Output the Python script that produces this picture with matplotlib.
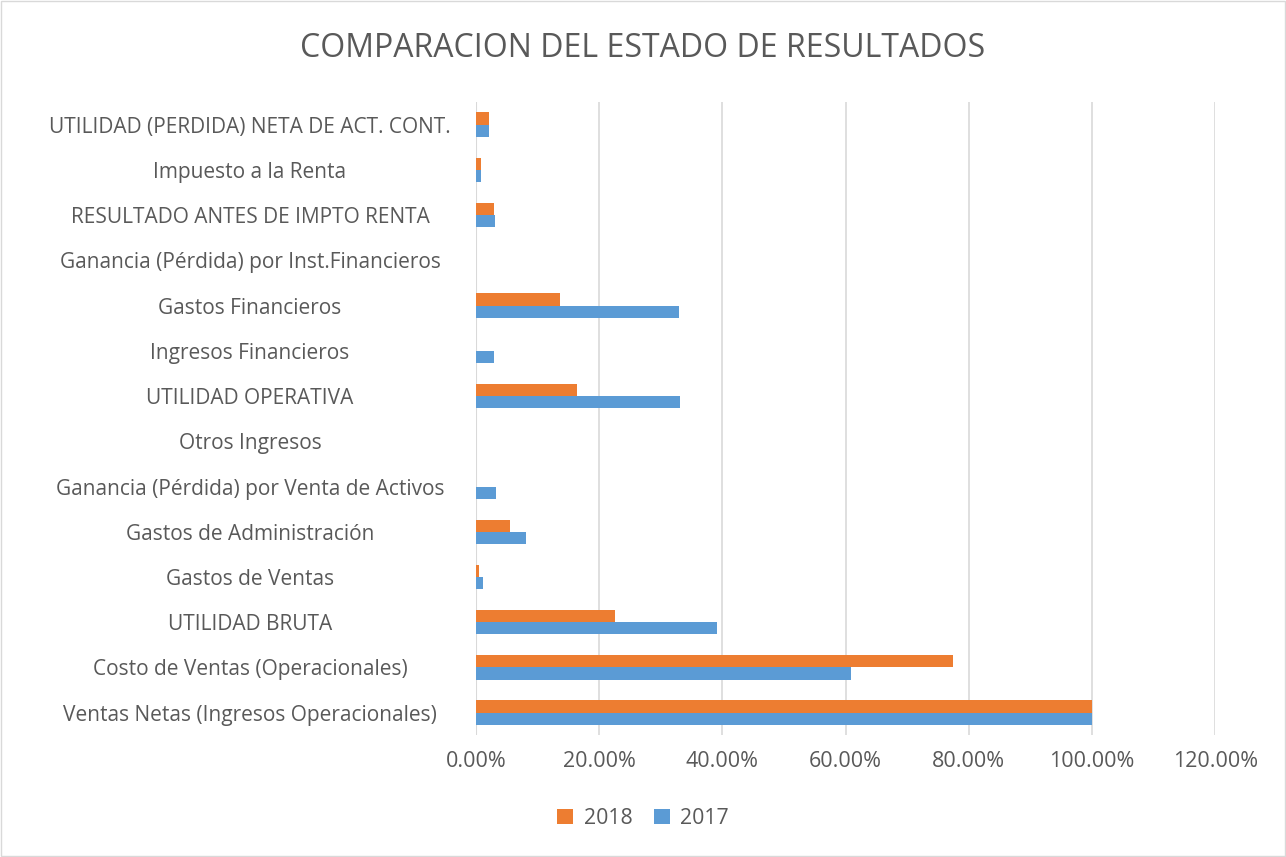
import matplotlib.pyplot as plt
import matplotlib.transforms as mtransforms
from matplotlib.patches import Rectangle
from matplotlib.ticker import PercentFormatter
import numpy as np

categories = [
    "Ventas Netas (Ingresos Operacionales)",
    "Costo de Ventas (Operacionales)",
    "UTILIDAD BRUTA",
    "Gastos de Ventas",
    "Gastos de Administración",
    "Ganancia (Pérdida) por Venta de Activos",
    "Otros Ingresos",
    "UTILIDAD OPERATIVA",
    "Ingresos Financieros",
    "Gastos Financieros",
    "Ganancia (Pérdida) por Inst.Financieros",
    "RESULTADO ANTES DE IMPTO RENTA",
    "Impuesto a la Renta",
    "UTILIDAD (PERDIDA) NETA DE ACT. CONT.",
]
vals_2017 = [100.0, 60.9, 39.1, 1.15, 8.1, 3.2, 0.0, 33.1, 3.0, 32.9, 0.0, 3.1, 0.9, 2.2]
vals_2018 = [100.0, 77.4, 22.6, 0.45, 5.5, 0.0, 0.0, 16.5, 0.1, 13.6, 0.0, 3.0, 0.8, 2.1]

c2018 = "#ED7D31"
c2017 = "#5B9BD5"
txt = "#595959"

plt.rcParams['font.family'] = ['Open Sans', 'DejaVu Sans']

fig = plt.figure(figsize=(12.86, 8.57), dpi=100)
ax = fig.add_axes([0.370, 0.142, 0.575, 0.739])

y = np.arange(len(categories))
h = 0.27
ax.barh(y + h / 2, vals_2018, height=h, color=c2018, label="2018", zorder=3)
ax.barh(y - h / 2, vals_2017, height=h, color=c2017, label="2017", zorder=3)

ax.set_xlim(0, 120)
ax.set_ylim(-0.5, len(categories) - 0.5)
ax.set_xticks(np.arange(0, 121, 20))
ax.xaxis.set_major_formatter(PercentFormatter(decimals=2))
ax.grid(axis='x', color="#D9D9D9", linewidth=1.2, zorder=0)
for s in ax.spines.values():
    s.set_visible(False)
ax.axvline(0, color="#D9D9D9", linewidth=1.5, zorder=2)

ax.set_yticks(y)
ax.set_yticklabels(categories)
ax.tick_params(axis='y', length=0, labelsize=15, colors=txt)
ax.tick_params(axis='x', length=0, labelsize=15.5, colors=txt, pad=11)
# category labels are centred in the left margin, like Excel does it
off = mtransforms.ScaledTranslation(-2.21, 0, fig.dpi_scale_trans)
for lab in ax.get_yticklabels():
    lab.set_horizontalalignment('center')
    lab.set_transform(lab.get_transform() + off)

fig.text(0.5, 0.943, "COMPARACION DEL ESTADO DE RESULTADOS", ha='center', va='center',
         fontsize=23, color=txt)

leg = fig.legend(loc='center', bbox_to_anchor=(0.5, 0.045), ncol=2, frameon=False,
                 fontsize=15.3, handlelength=0.75, handleheight=0.75, columnspacing=1.0,
                 handletextpad=0.5)
for t in leg.get_texts():
    t.set_color(txt)

fig.patches.append(Rectangle((0.001, 0.001), 0.998, 0.998, transform=fig.transFigure,
                             fill=False, edgecolor="#D9D9D9", linewidth=1))

fig.savefig("out.png", dpi=100)
